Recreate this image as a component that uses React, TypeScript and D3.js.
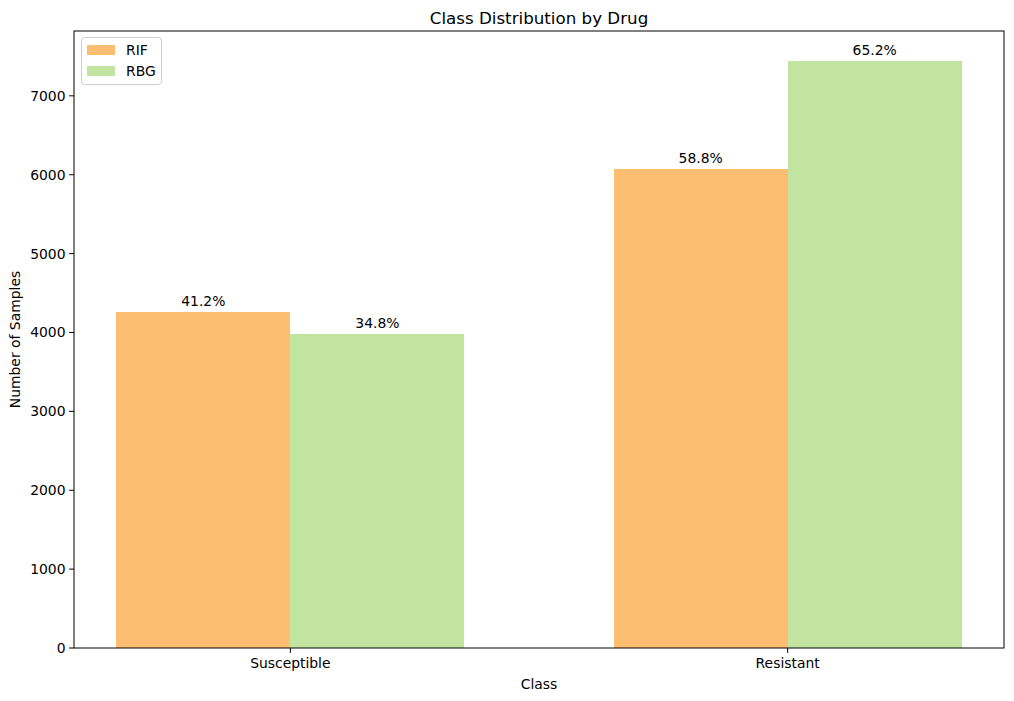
import React from "react";
import * as d3 from "d3";

const categories = ["Susceptible", "Resistant"];
const seriesNames = ["RIF", "RBG"];
const rifValues = [4258, 6077];
const rbgValues = [3976, 7446];
const rifLabels = ["41.2%", "58.8%"];
const rbgLabels = ["34.8%", "65.2%"];
const yTicks = [0, 1000, 2000, 3000, 4000, 5000, 6000, 7000];
const colors = ["#fdbe72", "#c1e5a1"];

const W = 1014, H = 701;
const left = 74, right = 1004, top = 31, bottom = 648;
const FONT = "DejaVu Sans, sans-serif";

export default function App() {
  const barW = 0.35;
  const x = d3.scaleLinear().domain([-0.435, 1.435]).range([left, right]);
  const y = d3.scaleLinear().domain([0, 7822]).range([bottom, top]);
  const series = [
    { name: seriesNames[0], values: rifValues, labels: rifLabels, offset: -barW / 2, color: colors[0] },
    { name: seriesNames[1], values: rbgValues, labels: rbgLabels, offset: barW / 2, color: colors[1] },
  ];
  return (
    <svg width={W} height={H} style={{ position: "absolute", left: 0, top: 0, background: "#fff" }} fontFamily={FONT}>
      <rect x={0} y={0} width={W} height={H} fill="#fff" />
      {series.map((s) =>
        s.values.map((v, i) => {
          const cx = i + s.offset;
          const x0 = Math.round(x(cx - barW / 2));
          const x1 = Math.round(x(cx + barW / 2));
          const yt = Math.round(y(v));
          return (
            <g key={s.name + i}>
              <rect x={x0} y={yt} width={x1 - x0} height={bottom - yt} fill={s.color} shapeRendering="crispEdges" />
              <text x={x(cx)} y={y(v) - 6} textAnchor="middle" fontSize={13.9} fill="#000">{s.labels[i]}</text>
            </g>
          );
        })
      )}
      <rect x={left} y={top} width={right - left} height={bottom - top} fill="none" stroke="#000" strokeWidth={1} />
      {yTicks.map((t) => (
        <g key={t}>
          <line x1={left - 4.9} x2={left} y1={y(t)} y2={y(t)} stroke="#000" />
          <text x={left - 8.5} y={y(t) + 5} textAnchor="end" fontSize={13.9}>{t}</text>
        </g>
      ))}
      {categories.map((c, i) => (
        <g key={c}>
          <line x1={x(i)} x2={x(i)} y1={bottom} y2={bottom + 4.9} stroke="#000" />
          <text x={x(i)} y={bottom + 20} textAnchor="middle" fontSize={13.9}>{c}</text>
        </g>
      ))}
      <text x={(left + right) / 2} y={bottom + 41} textAnchor="middle" fontSize={13.9}>Class</text>
      <text transform={`translate(20,${(top + bottom) / 2}) rotate(-90)`} textAnchor="middle" fontSize={13.9}>Number of Samples</text>
      <text x={(left + right) / 2} y={24} textAnchor="middle" fontSize={16.7}>Class Distribution by Drug</text>
      <g>
        <rect x={81.5} y={37.5} width={80} height={47} rx={3} fill="#fff" fillOpacity={0.8} stroke="#ccc" />
        {series.map((s, i) => (
          <g key={s.name}>
            <rect x={87} y={45 + i * 21} width={28} height={10} fill={s.color} />
            <text x={126} y={55 + i * 21} fontSize={13.9}>{s.name}</text>
          </g>
        ))}
      </g>
    </svg>
  );
}
